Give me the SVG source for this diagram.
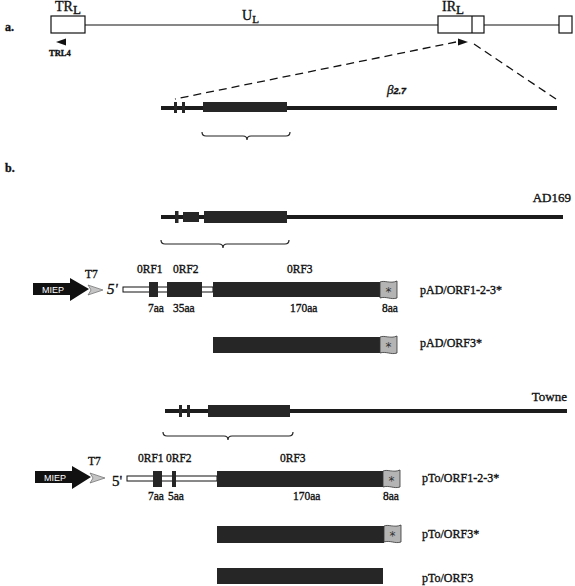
<svg xmlns="http://www.w3.org/2000/svg" width="575" height="586" viewBox="0 0 575 586">
<style>
text{font-family:"Liberation Serif","Times New Roman",serif;fill:#111;stroke:#111;stroke-width:0.35}
.lbl{font-size:12px}
.sm{font-size:11.5px}
.big{font-size:13px}
.blk{fill:#262626}
.thick{stroke:#1c1c1c;stroke-width:4;fill:none}
.thin{stroke:#111;stroke-width:1.2;fill:none}
.box{fill:#fff;stroke:#111;stroke-width:1.2}
.dash{stroke:#111;stroke-width:1.3;stroke-dasharray:8 5;fill:none}
.brace{stroke:#222;stroke-width:1.2;fill:none}
.flag{fill:#b4b4b4;stroke:#333;stroke-width:0.8}
.lead{fill:#fff;stroke:#111;stroke-width:1}
.miep{fill:#111}
.t7{fill:#c4c4c4;stroke:#555;stroke-width:0.6}
</style>
<defs>
<g id="flagshape">
<path class="flag" d="M0,0 C5,-2 10,2 17,-1 L17,16 C11,18 6,14 0,16 Z"/>
<text x="8.5" y="14" style="font-family:'DejaVu Sans',sans-serif;font-size:12px;fill:#333;stroke:none" text-anchor="middle">*</text>
</g>
<g id="promoter">
<polygon class="miep" points="0,-6 37,-6 37,-11 56,0 37,12 37,6 0,6"/>
<text x="9" y="4" style="font-family:'Liberation Sans',Arial,sans-serif;font-size:9px;fill:#fff;stroke:none">MIEP</text>
<polygon class="t7" points="55,-4 70,1 55,6 58,1"/>
</g>
</defs>

<!-- part a -->
<g id="label-a"><text x="5" y="31" class="lbl" font-weight="bold">a.</text></g>
<g id="genome">
<line class="thin" x1="85" y1="25" x2="438" y2="25"/>
<line class="thin" x1="484" y1="25" x2="559" y2="25"/>
<rect class="box" x="51" y="16" width="34" height="17"/>
<rect class="box" x="438" y="16" width="46" height="17"/>
<line class="thin" x1="472" y1="16" x2="472" y2="33"/>
<rect class="box" x="559" y="16" width="13" height="17"/>
<text x="55" y="11" style="font-size:14px">TR<tspan dy="3" font-size="13">L</tspan></text>
<text x="242" y="20" style="font-size:14px">U<tspan dy="3" font-size="11">L</tspan></text>
<text x="442" y="11" style="font-size:14px">IR<tspan dy="3" font-size="13">L</tspan></text>
</g>
<g id="trl4">
<polygon points="56,42 66,38.5 66,45.5" fill="#111"/>
<text x="49" y="56" style="font-size:8.5px;font-weight:bold">TRL4</text>
</g>
<g id="ir-arrow"><polygon points="458,38.5 468,42 458,45.5" fill="#111"/></g>

<g id="connectors">
<line class="dash" x1="456" y1="42" x2="175" y2="99"/>
<line class="dash" x1="474" y1="44" x2="556" y2="99"/>
</g>

<g id="beta27">
<line class="thick" x1="161" y1="108" x2="557" y2="108"/>
<rect class="blk" x="174" y="102" width="3" height="11"/>
<rect class="blk" x="182" y="102" width="3" height="11"/>
<rect class="blk" x="203" y="102" width="84" height="10"/>
<text x="387" y="94" style="font-size:13px;font-style:italic">β<tspan style="font-family:'Liberation Sans',Arial,sans-serif;font-size:9px;font-weight:bold">2.7</tspan></text>
<path class="brace" d="M202,132 Q202,136 206,136 L243,136 Q247,136 247,140 Q247,136 251,136 L286,136 Q290,136 290,132"/>
</g>

<!-- part b -->
<g id="label-b"><text x="5" y="172" class="lbl" font-weight="bold">b.</text></g>

<g id="ad169">
<line class="thick" x1="161" y1="217" x2="563" y2="217"/>
<rect class="blk" x="175" y="211" width="3.5" height="12"/>
<rect class="blk" x="183" y="212" width="16" height="10"/>
<rect class="blk" x="204" y="211" width="83" height="12"/>
<text x="571" y="202" class="big" text-anchor="end">AD169</text>
<path class="brace" d="M161,240 Q161,244 165,244 L219,244 Q223,244 223,248 Q223,244 227,244 L285,244 Q289,244 289,240"/>
</g>

<g id="pAD-ORF123">
<use href="#promoter" x="33" y="289"/>
<text x="85" y="278" class="sm">T7</text>
<text x="107" y="294" style="font-size:15px;font-style:italic">5'</text>
<rect class="lead" x="123" y="287" width="90" height="5"/>
<rect class="blk" x="149" y="282" width="9" height="15"/>
<rect class="blk" x="167" y="282" width="35" height="15"/>
<rect class="blk" x="213" y="282" width="167" height="15"/>
<use href="#flagshape" x="380" y="282"/>
<text x="137" y="273" class="sm">0RF1</text>
<text x="173" y="273" class="sm">0RF2</text>
<text x="287" y="273" class="sm">0RF3</text>
<text x="148" y="312" class="sm">7aa</text>
<text x="173" y="312" class="sm">35aa</text>
<text x="290" y="312" class="sm">170aa</text>
<text x="382" y="312" class="sm">8aa</text>
<text x="420" y="294" class="lbl">pAD/ORF1-2-3*</text>
</g>

<g id="pAD-ORF3">
<rect class="blk" x="213" y="337" width="167" height="16"/>
<use href="#flagshape" x="380" y="337"/>
<text x="420" y="347" class="lbl">pAD/ORF3*</text>
</g>

<g id="towne">
<line class="thick" x1="165" y1="411" x2="567" y2="411"/>
<rect class="blk" x="179" y="405" width="3" height="12"/>
<rect class="blk" x="187" y="405" width="3" height="12"/>
<rect class="blk" x="208" y="405" width="82" height="12"/>
<text x="567" y="401" class="big" text-anchor="end">Towne</text>
<path class="brace" d="M163,432 Q163,436 167,436 L224,436 Q228,436 228,440 Q228,436 232,436 L289,436 Q293,436 293,432"/>
</g>

<g id="pTo-ORF123">
<use href="#promoter" x="35" y="477"/>
<text x="88" y="465" class="sm">T7</text>
<text x="112" y="486" style="font-size:15px">5'</text>
<rect class="lead" x="127" y="476" width="90" height="5"/>
<rect class="blk" x="153" y="471" width="9" height="16"/>
<rect class="blk" x="172" y="471" width="4" height="16"/>
<rect class="blk" x="217" y="471" width="166" height="16"/>
<use href="#flagshape" x="383" y="471"/>
<text x="138" y="462" class="sm">0RF1</text>
<text x="166" y="462" class="sm">0RF2</text>
<text x="280" y="462" class="sm">0RF3</text>
<text x="148" y="500" class="sm">7aa</text>
<text x="168" y="500" class="sm">5aa</text>
<text x="293" y="500" class="sm">170aa</text>
<text x="383" y="500" class="sm">8aa</text>
<text x="422" y="482" class="lbl">pTo/ORF1-2-3*</text>
</g>

<g id="pTo-ORF3star">
<rect class="blk" x="217" y="526" width="167" height="17"/>
<use href="#flagshape" x="384" y="526"/>
<text x="422" y="538" class="lbl">pTo/ORF3*</text>
</g>

<g id="pTo-ORF3">
<rect class="blk" x="217" y="568" width="166" height="16"/>
<text x="422" y="582" class="lbl">pTo/ORF3</text>
</g>
</svg>
